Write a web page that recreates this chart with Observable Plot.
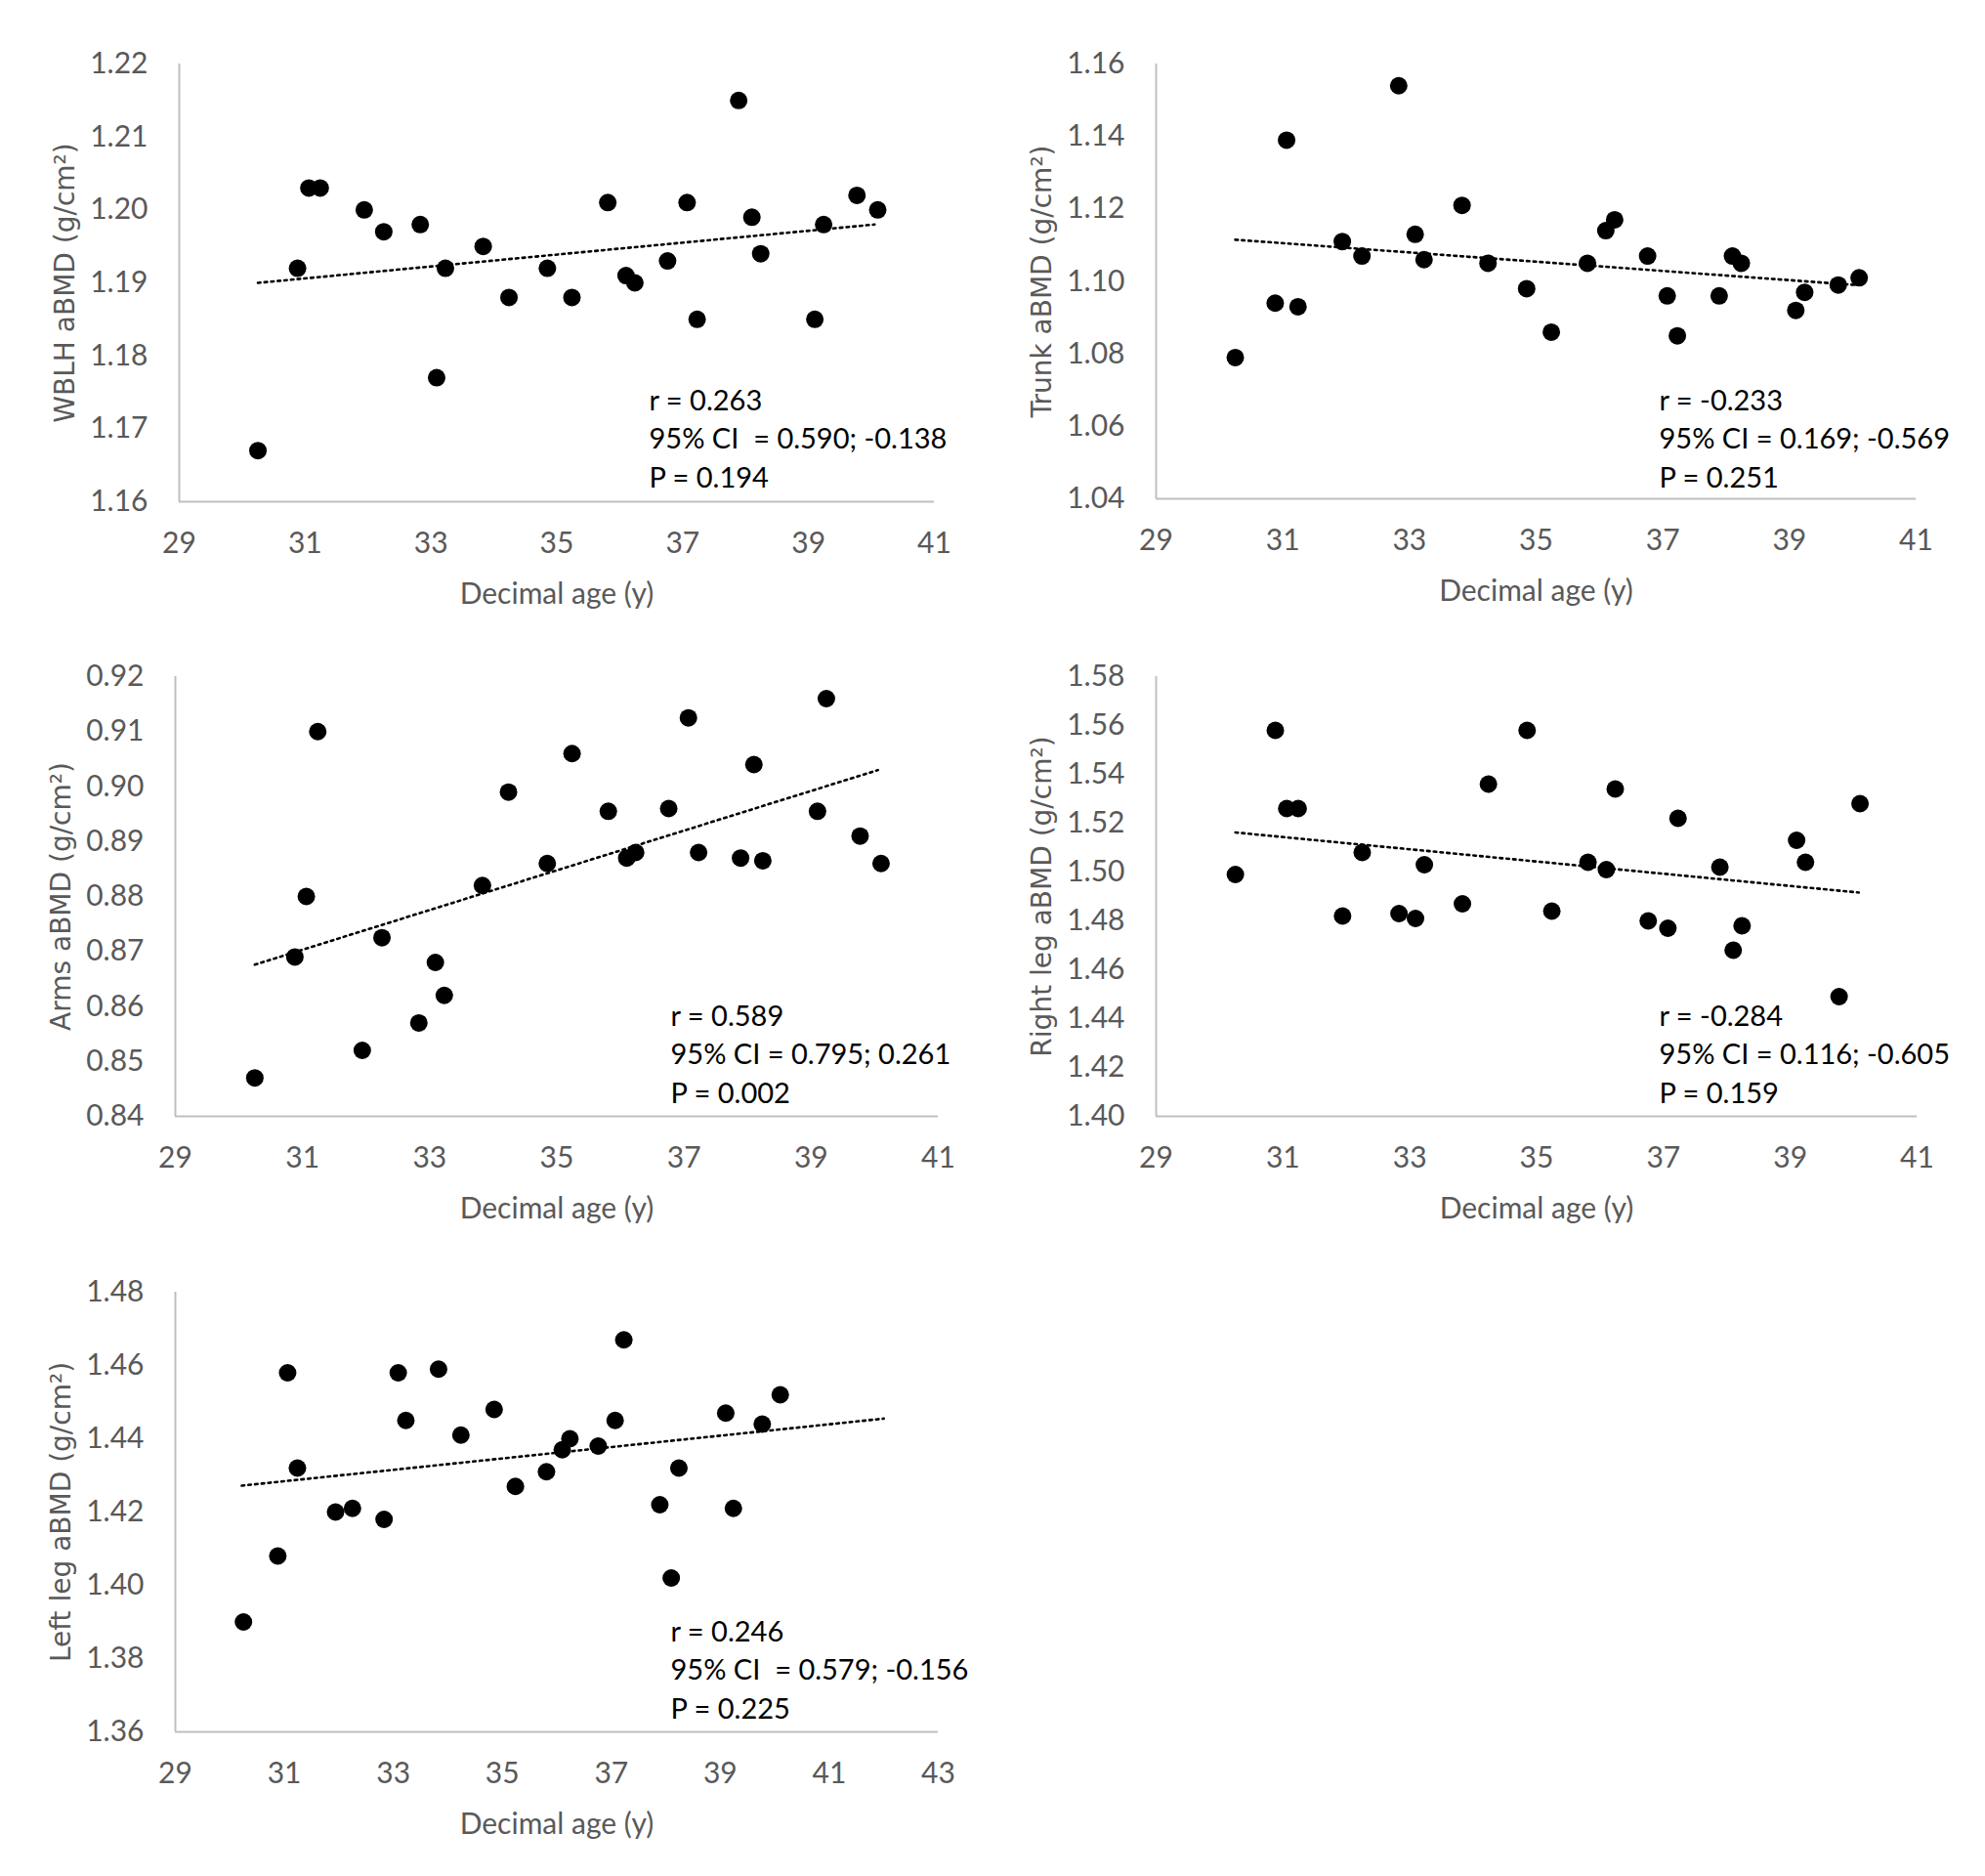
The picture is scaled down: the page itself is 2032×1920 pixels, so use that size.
<!DOCTYPE html>
<html>
<head>
<meta charset="utf-8">
<script src="https://cdn.jsdelivr.net/npm/d3@7"></script>
<script src="https://cdn.jsdelivr.net/npm/@observablehq/plot@0.6"></script>
<style>
  html, body { margin: 0; padding: 0; background: #fff; }
  #wrap { position: relative; width: 2032px; height: 1920px; background: #fff; }
  #wrap > div, #wrap > svg { position: absolute; }
  svg text { white-space: pre; }
</style>
</head>
<body>
<div id="wrap"></div>
<script>
// Decimal ages of the subjects (shared by all panels)
const ages = [30.25, 30.88, 31.06, 31.24, 31.94, 32.25, 32.83, 33.09, 33.23, 33.83, 34.24, 34.85, 35.24,
              35.81, 36.10, 36.24, 36.76, 37.07, 37.23, 37.89, 38.10, 38.24, 39.10, 39.24, 39.77, 40.10];

const wblh  = [1.167, 1.192, 1.203, 1.203, 1.200, 1.197, 1.198, 1.177, 1.192, 1.195, 1.188, 1.192, 1.188,
               1.201, 1.191, 1.190, 1.193, 1.201, 1.185, 1.215, 1.199, 1.194, 1.185, 1.198, 1.202, 1.200];
const trunk = [1.079, 1.094, 1.139, 1.093, 1.111, 1.107, 1.154, 1.113, 1.106, 1.121, 1.105, 1.098, 1.086,
               1.105, 1.114, 1.117, 1.107, 1.096, 1.085, 1.096, 1.107, 1.105, 1.092, 1.097, 1.099, 1.101];
const arms  = [0.847, 0.869, 0.880, 0.910, 0.852, 0.8725, 0.857, 0.868, 0.862, 0.882, 0.899, 0.886, 0.906,
               0.8955, 0.887, 0.888, 0.896, 0.9125, 0.888, 0.887, 0.904, 0.8865, 0.8955, 0.916, 0.891, 0.886];
const rightLeg = [1.499, 1.558, 1.526, 1.526, 1.482, 1.508, 1.483, 1.481, 1.503, 1.487, 1.536, 1.558, 1.484,
                  1.504, 1.501, 1.534, 1.480, 1.477, 1.522, 1.502, 1.468, 1.478, 1.513, 1.504, 1.449, 1.528];
const leftLeg  = [1.390, 1.408, 1.458, 1.432, 1.420, 1.421, 1.418, 1.458, 1.445, 1.459, 1.441, 1.448, 1.427,
                  1.431, 1.437, 1.440, 1.438, 1.445, 1.467, 1.422, 1.402, 1.432, 1.447, 1.421, 1.444, 1.452];

// Trend line endpoints
const trendX = [[30.25, 40.05], [30.25, 40.05], [30.25, 40.05], [30.25, 40.08], [30.22, 42.0]];
const trendY = [[1.190, 1.198], [1.1115, 1.099], [0.8676, 0.903], [1.5162, 1.4916], [1.4272, 1.4455]];

const yTitles = ["WBLH aBMD (g/cm\u00B2)", "Trunk aBMD (g/cm\u00B2)", "Arms aBMD (g/cm\u00B2)",
                 "Right leg aBMD (g/cm\u00B2)", "Left leg aBMD (g/cm\u00B2)"];
const xTitle = "Decimal age (y)";
const xDomains = [[29, 41], [29, 41], [29, 41], [29, 41], [29, 43]];
const yDomains = [[1.16, 1.22], [1.04, 1.16], [0.84, 0.92], [1.40, 1.58], [1.36, 1.48]];
const yTickSteps = [0.01, 0.02, 0.01, 0.02, 0.02];
const xTickStep = 2;
const stats = [
  ["r = 0.263", "95% CI  = 0.590; -0.138", "P = 0.194"],
  ["r = -0.233", "95% CI = 0.169; -0.569", "P = 0.251"],
  ["r = 0.589", "95% CI = 0.795; 0.261", "P = 0.002"],
  ["r = -0.284", "95% CI = 0.116; -0.605", "P = 0.159"],
  ["r = 0.246", "95% CI  = 0.579; -0.156", "P = 0.225"]
];
const seriesList = [wblh, trunk, arms, rightLeg, leftLeg];

// layout (pixels)
const layout = [
  {left: 0,    top: 0,    mL: 183, mR: 60, mT: 65, mB: 127, sdx: 481, sdy: -15},
  {left: 1016, top: 0,    mL: 167, mR: 71, mT: 65, mB: 130, sdx: 515, sdy: -12},
  {left: 0,    top: 640,  mL: 179, mR: 56, mT: 52, mB: 138, sdx: 507, sdy: -14},
  {left: 1016, top: 640,  mL: 167, mR: 70, mT: 52, mB: 138, sdx: 515, sdy: -14},
  {left: 0,    top: 1280, mL: 179, mR: 56, mT: 42, mB: 148, sdx: 507, sdy: -14}
];

const wrap = document.getElementById("wrap");
const gray = "#595959";
const axisGray = "#bfbfbf";

seriesList.forEach((vals, i) => {
  const L = layout[i];
  const pts = ages.map((a, j) => ({age: a, v: vals[j]}));
  const trend = trendX[i].map((x, j) => ({age: x, v: trendY[i][j]}));
  const yd = yDomains[i], xd = xDomains[i];
  const yTicks = d3.range(Math.round((yd[1] - yd[0]) / yTickSteps[i]) + 1).map(k => +(yd[0] + k * yTickSteps[i]).toFixed(3));
  const xTicks = d3.range(xd[0], xd[1] + 0.001, xTickStep);
  const chart = Plot.plot({
    width: 1016, height: 640,
    marginLeft: L.mL, marginRight: L.mR, marginTop: L.mT, marginBottom: L.mB,
    style: {fontFamily: "Lato, 'Liberation Sans', sans-serif", fontSize: "30px", color: gray, background: "transparent"},
    x: {domain: xd, ticks: xTicks},
    y: {domain: yd, ticks: yTicks},
    marks: [
      Plot.ruleX([xd[0]], {stroke: axisGray, strokeWidth: 2}),
      Plot.ruleY([yd[0]], {stroke: axisGray, strokeWidth: 2}),
      Plot.axisY({ticks: yTicks, tickSize: 0, tickPadding: 32, tickFormat: d3.format(".2f"), label: null, fill: gray}),
      Plot.axisX({ticks: xTicks, tickSize: 0, tickPadding: 31, tickFormat: d => String(d), label: null, fill: gray}),
      Plot.line(trend, {x: "age", y: "v", stroke: "#000", strokeWidth: 2.6, strokeDasharray: "2.6,4.2", strokeLinecap: "round"}),
      Plot.dot(pts, {x: "age", y: "v", r: 9, fill: "#000", stroke: "none"}),
      Plot.text([stats[i].join("\n")], {frameAnchor: "bottom-left", textAnchor: "start", lineAnchor: "bottom",
        dx: L.sdx, dy: L.sdy, fill: "#000", fontSize: 29, lineHeight: 1.35}),
      Plot.text([yTitles[i]], {frameAnchor: "left", rotate: -90, dx: -116, fill: gray, textAnchor: "middle",
        lineAnchor: "middle", fontSize: 28, fontFamily: "'DejaVu Sans', Verdana, sans-serif"}),
      Plot.text([xTitle], {frameAnchor: "bottom", dy: 95, fill: gray, textAnchor: "middle", lineAnchor: "middle", fontSize: 30})
    ]
  });
  chart.style.left = L.left + "px";
  chart.style.top = L.top + "px";
  chart.style.overflow = "visible";
  wrap.appendChild(chart);
});
</script>
</body>
</html>
